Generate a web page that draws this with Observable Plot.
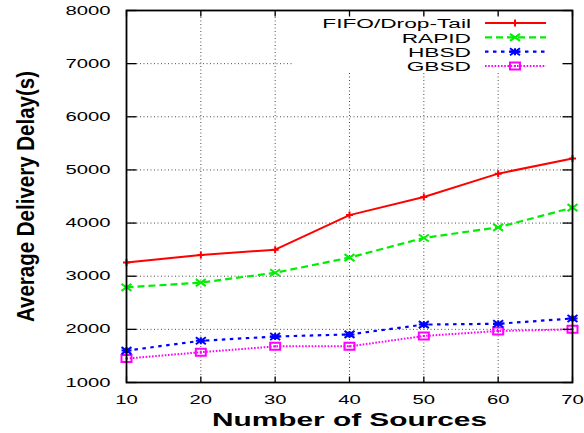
<!DOCTYPE html>
<html><head><meta charset="utf-8">
<script src="https://cdn.jsdelivr.net/npm/d3@7"></script>
<script src="https://cdn.jsdelivr.net/npm/@observablehq/plot@0.6"></script>
<style>
html,body{margin:0;padding:0;background:#fff;}
#chart svg{display:block;}
</style></head><body><div id="chart"></div>
<script>
const sources = [10, 20, 30, 40, 50, 60, 70];
const seriesNames = ["FIFO/Drop-Tail", "RAPID", "HBSD", "GBSD"];
const fifo  = [3260, 3400, 3500, 4150, 4490, 4930, 5215];
const rapid = [2790, 2880, 3065, 3350, 3720, 3920, 4290];
const hbsd  = [1600, 1785, 1865, 1905, 2090, 2105, 2205];
const gbsd  = [1450, 1570, 1680, 1680, 1875, 1970, 2000];
const xTicks = [10, 20, 30, 40, 50, 60, 70];
const yTicks = [1000, 2000, 3000, 4000, 5000, 6000, 7000, 8000];
const xLabel = "Number of Sources";
const yLabel = "Average Delivery Delay(s)";

const seriesValues = [fifo, rapid, hbsd, gbsd];
const colors = ["#ff0000", "#00ee00", "#0000ff", "#ff00ff"];
const dashes = [null, "7,4", "3.5,4.5", "1.6,1.6"];
const widths = [2, 2.2, 2.2, 2];

// custom gnuplot-like point symbols (horizontally stretched)
const symPlus = {draw(c){ c.moveTo(-3.5,0); c.lineTo(3.5,0); c.moveTo(0,-3.5); c.lineTo(0,3.5); }};
const symCross = {draw(c){ c.moveTo(-5,-3.5); c.lineTo(5,3.5); c.moveTo(-5,3.5); c.lineTo(5,-3.5); }};
const symStar = {draw(c){ c.moveTo(-5,-3.5); c.lineTo(5,3.5); c.moveTo(-5,3.5); c.lineTo(5,-3.5); c.moveTo(-5,0); c.lineTo(5,0); c.moveTo(0,-3.5); c.lineTo(0,3.5); }};
const symSquare = {draw(c){ c.moveTo(-5,-3.5); c.lineTo(5,-3.5); c.lineTo(5,3.5); c.lineTo(-5,3.5); c.closePath(); c.moveTo(-1,0); c.lineTo(1,0); }};
const symbols = [symPlus, symCross, symStar, symSquare];

// inner tick symbols
const tickLeft = {draw(c){ c.moveTo(0,0); c.lineTo(10,0); }};
const tickRight = {draw(c){ c.moveTo(0,0); c.lineTo(-10,0); }};
const tickBottom = {draw(c){ c.moveTo(0,0); c.lineTo(0,-6); }};
const tickTop = {draw(c){ c.moveTo(0,0); c.lineTo(0,6); }};

const rows = seriesNames.map((name, i) => sources.map((x, j) => ({series: name, x, y: seriesValues[i][j]})));

const marks = [
  Plot.ruleX(xTicks.slice(1, -1), {x: d => d, stroke: "#000", strokeOpacity: 0.7, strokeDasharray: "1,2.5", strokeWidth: 1}),
  Plot.ruleY(yTicks.slice(1, -1), {y: d => d, stroke: "#000", strokeOpacity: 0.7, strokeDasharray: "1,2.5", strokeWidth: 1}),
];
for (let i = seriesNames.length - 1; i >= 0; i--) {
  marks.push(Plot.line(rows[i], {x: "x", y: "y", stroke: colors[i], strokeWidth: widths[i], strokeDasharray: dashes[i] || undefined, strokeLinecap: "butt"}));
}
for (let i = seriesNames.length - 1; i >= 0; i--) {
  marks.push(Plot.dot(rows[i], {x: "x", y: "y", symbol: symbols[i], fill: "none", stroke: colors[i], strokeWidth: 2}));
}
marks.push(
  Plot.dot(yTicks, {x: () => 10, y: d => d, symbol: tickLeft, fill: "none", stroke: "#000", strokeWidth: 1.3}),
  Plot.dot(yTicks, {x: () => 70, y: d => d, symbol: tickRight, fill: "none", stroke: "#000", strokeWidth: 1.3}),
  Plot.dot(xTicks, {x: d => d, y: () => 1000, symbol: tickBottom, fill: "none", stroke: "#000", strokeWidth: 1.3}),
  Plot.dot(xTicks, {x: d => d, y: () => 8000, symbol: tickTop, fill: "none", stroke: "#000", strokeWidth: 1.3}),
  Plot.frame({stroke: "#000", strokeWidth: 1.8})
);

const plot = Plot.plot({
  width: 584, height: 433,
  marginLeft: 126, marginRight: 12, marginTop: 10, marginBottom: 51,
  style: {fontFamily: "'Liberation Sans', Arial, sans-serif", fontSize: "12.5px", color: "#000", background: "#fff", overflow: "visible"},
  x: {domain: [10, 70], ticks: xTicks, tickSize: 0, tickPadding: 13, tickFormat: d => String(d), label: xLabel, labelAnchor: "center", labelOffset: 43, labelArrow: "none"},
  y: {domain: [1000, 8000], ticks: yTicks, tickSize: 0, tickPadding: 16, tickFormat: d => String(d), label: yLabel, labelAnchor: "center", labelOffset: 110, labelArrow: "none"},
  marks
});
document.getElementById("chart").append(plot);

const STRETCH = 1.62;
const svg = d3.select(plot);
svg.selectAll("text").each(function () {
  const t = this.textContent.trim();
  const el = d3.select(this);
  if (t === xLabel) {
    el.attr("font-size", "18px").attr("font-weight", "bold").style("font-size", "18px").style("font-weight", "bold");
    el.attr("textLength", 275).attr("lengthAdjust", "spacingAndGlyphs");
  } else if (t === yLabel) {
    el.attr("font-size", "24px").attr("font-weight", "bold").style("font-size", "24px").style("font-weight", "bold");
    el.attr("textLength", 251).attr("lengthAdjust", "spacingAndGlyphs");
  } else if (t.length) {
    const w = this.getComputedTextLength();
    el.attr("textLength", w * STRETCH).attr("lengthAdjust", "spacingAndGlyphs");
  }
});

// legend (layout box inside the plot frame, drawn below the data)
const ns = "http://www.w3.org/2000/svg";
const lg = d3.select(document.createElementNS(ns, "g")).attr("aria-label", "legend");
lg.append("rect").attr("x", 292).attr("y", 15).attr("width", 270).attr("height", 58).attr("fill", "#fff");
seriesNames.forEach((name, i) => {
  const base = 28.3 + 14.3 * i;
  const cy = base - 5.2;
  lg.append("text").attr("x", 471).attr("y", base).attr("text-anchor", "end")
    .attr("font-size", "12.5px").attr("font-family", "'Liberation Sans', Arial, sans-serif").attr("fill", "#000").text(name);
  lg.append("line").attr("x1", 485).attr("x2", 546).attr("y1", cy).attr("y2", cy)
    .attr("stroke", colors[i]).attr("stroke-width", widths[i]).attr("stroke-dasharray", dashes[i]);
  lg.append("path").attr("transform", `translate(515,${cy})`).attr("d", d3.symbol(symbols[i])())
    .attr("fill", "none").attr("stroke", colors[i]).attr("stroke-width", 2);
});
const firstLine = plot.querySelector('g[aria-label="line"]');
plot.insertBefore(lg.node(), firstLine);
lg.selectAll("text").each(function () {
  const w = this.getComputedTextLength();
  d3.select(this).attr("textLength", w * STRETCH * 14 / 12.5).attr("lengthAdjust", "spacingAndGlyphs");
});
</script></body></html>
